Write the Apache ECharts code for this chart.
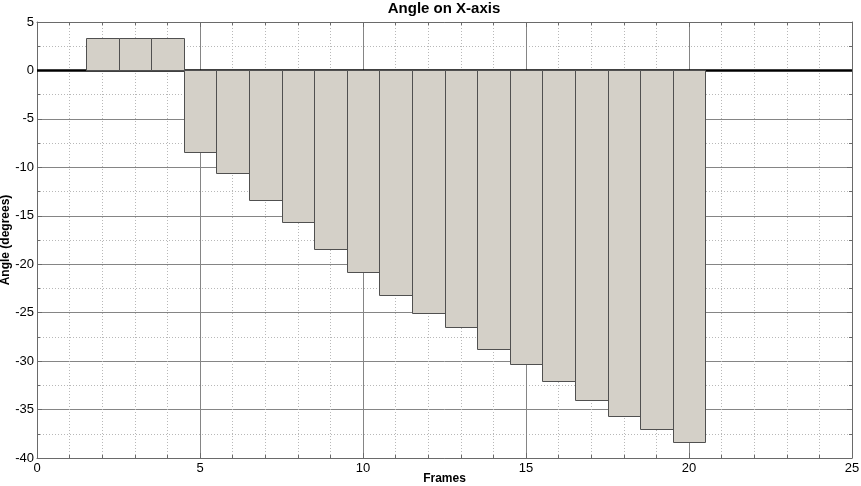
<!DOCTYPE html>
<html>
<head>
<meta charset="utf-8">
<script src="https://cdn.jsdelivr.net/npm/echarts@6/dist/echarts.min.js"></script>
<style>
html,body{margin:0;padding:0;background:#fff;}
#chart{width:861px;height:486px;}
</style>
</head>
<body>
<div id="chart"></div>
<script>
const frames = [2,3,4,5,6,7,8,9,10,11,12,13,14,15,16,17,18,19,20];
const angles = [3.4,3.4,3.4,-8.4,-10.6,-13.4,-15.6,-18.4,-20.8,-23.2,-25.0,-26.5,-28.7,-30.3,-32.1,-34.0,-35.7,-37.0,-38.3];
const xTicks = [0,5,10,15,20,25];
const yTicks = [-40,-35,-30,-25,-20,-15,-10,-5,0,5];

const FONT = '"Liberation Sans", Arial, sans-serif';
const chart = echarts.init(document.getElementById('chart'), null, {renderer:'canvas'});

const majorLine = {show:true, lineStyle:{color:'#858585', width:1, type:'solid'}};

function baseX(pos, labels){
  return {
    type:'value', position:pos, min:xTicks[0], max:xTicks[xTicks.length-1], interval:5,
    axisLine:{show:true, onZero:false, lineStyle:{color:'#6a6a6a', width:1}},
    axisTick:{show:true, inside:true, length:5, lineStyle:{color:'#6a6a6a'}},
    minorTick:{show:true, splitNumber:5, length:3, lineStyle:{color:'#6a6a6a'}},
    splitLine: labels ? majorLine : {show:false},
    minorSplitLine: labels ? {show:true, lineStyle:{color:'#b8b8b8', width:1, type:[1,2]}} : {show:false},
    axisLabel:{show:labels, color:'#000', fontFamily:FONT, fontSize:13, margin:4},
    name: labels ? 'Frames' : '', nameLocation:'middle', nameGap:15, nameMoveOverlap:false,
    nameTextStyle:{color:'#000', fontFamily:FONT, fontSize:12, fontWeight:'bold'}
  };
}
function baseY(pos, labels){
  return {
    type:'value', position:pos, min:yTicks[0], max:yTicks[yTicks.length-1], interval:5,
    axisLine:{show:true, onZero:false, lineStyle:{color:'#6a6a6a', width:1}},
    axisTick:{show:true, inside:true, length:5, lineStyle:{color:'#6a6a6a'}},
    minorTick:{show:true, splitNumber:2, length:3, lineStyle:{color:'#6a6a6a'}},
    splitLine: labels ? majorLine : {show:false},
    minorSplitLine: labels ? {show:true, lineStyle:{color:'#b8b8b8', width:1, type:[1,2]}} : {show:false},
    axisLabel:{show:labels, color:'#000', fontFamily:FONT, fontSize:13, margin:3},
    name: labels ? 'Angle (degrees)' : '', nameLocation:'middle', nameGap:25, nameRotate:90, nameMoveOverlap:false,
    nameTextStyle:{color:'#000', fontFamily:FONT, fontSize:12, fontWeight:'bold'}
  };
}

const option = {
  animation:false,
  backgroundColor:'#fff',
  title:{text:'Angle on X-axis', left:439, textAlign:'center', top:-4,
    textStyle:{color:'#000', fontFamily:FONT, fontSize:15, fontWeight:'bold'}},
  grid:{left:37, right:9, top:22, bottom:28, containLabel:false, outerBoundsMode:'none'},
  xAxis:[baseX('bottom', true), baseX('top', false)],
  yAxis:[baseY('left', true), baseY('right', false)],
  series:[{
    type:'custom',
    xAxisIndex:0, yAxisIndex:0,
    data: frames.map((f,i)=>[f, angles[i]]),
    renderItem:function(params, api){
      const x = api.value(0), v = api.value(1);
      const p0 = api.coord([x-0.5, 0]);
      const p1 = api.coord([x+0.5, v]);
      const x0 = Math.round(p0[0])+0.5, x1 = Math.round(p1[0])+0.5;
      const y0 = Math.round(Math.min(p0[1],p1[1]))+0.5, y1 = Math.round(Math.max(p0[1],p1[1]))+0.5;
      return {type:'rect', shape:{x:x0, y:y0, width:x1-x0, height:y1-y0},
        style:{fill:'#d4d0c8', stroke:'#505050', lineWidth:1}};
    },
    markLine:{
      silent:true, symbol:['none','none'], label:{show:false},
      lineStyle:{color:'#000', width:2.5, type:'solid'},
      data:[{yAxis:0}]
    },
    z:5
  }]
};
chart.setOption(option);
</script>
</body>
</html>
